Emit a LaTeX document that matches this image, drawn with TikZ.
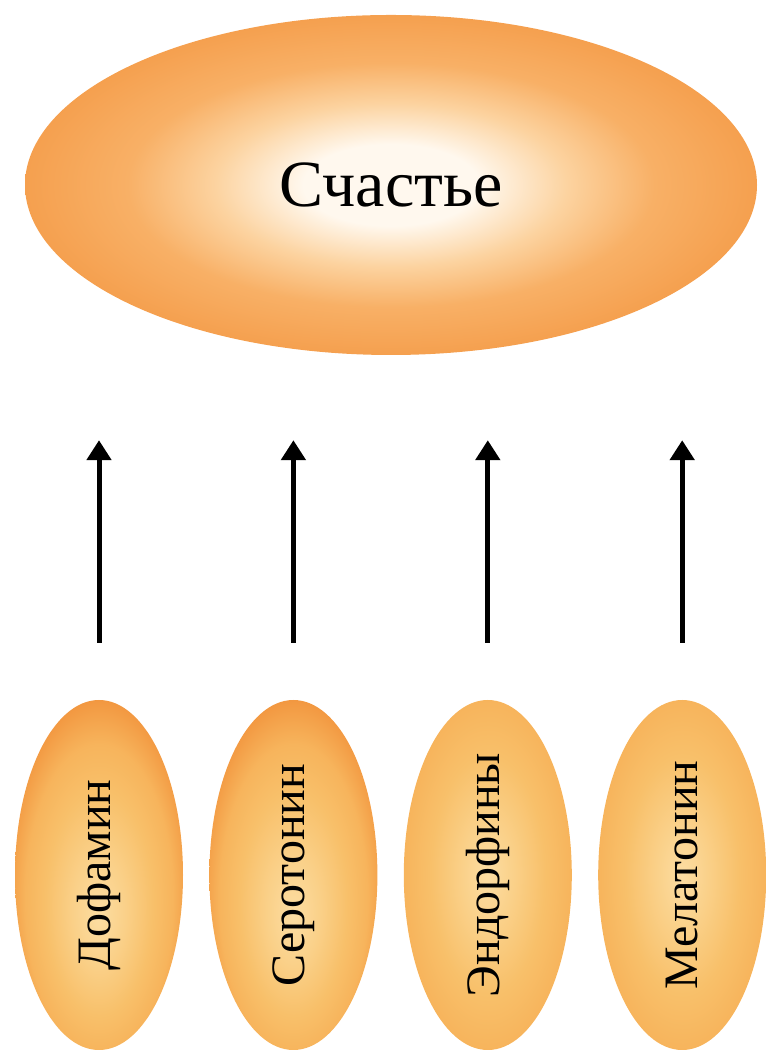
\documentclass[tikz,border=0pt]{standalone}
\usepackage{fontspec}
\setmainfont{Liberation Serif}
\usetikzlibrary{arrows.meta,positioning,shapes.geometric}

\definecolor{glowcore}{HTML}{FFF8EE}
\definecolor{glowmid}{HTML}{FCD3A0}
\definecolor{glowrim}{HTML}{F8B066}
\definecolor{glowedge}{HTML}{F5A04F}
\definecolor{pillcore}{HTML}{FCDDA2}
\definecolor{pillmid}{HTML}{FAD088}
\definecolor{pillrim}{HTML}{F8C06A}
\definecolor{pilledge}{HTML}{F7B45C}
\definecolor{pilldark}{HTML}{F2963F}

% the path's box maps onto the central 50bp square, so the rim sits at 25bp
\pgfdeclareradialshading{bigglow}{\pgfpoint{0bp}{0bp}}{color(0bp)=(glowcore); color(6bp)=(glowcore); color(12bp)=(glowmid); color(18bp)=(glowrim); color(25bp)=(glowedge); color(50bp)=(glowedge)}
\pgfdeclareradialshading{pillglow}{\pgfpoint{0bp}{0bp}}{color(0bp)=(pillcore); color(8bp)=(pillmid); color(17bp)=(pillrim); color(25bp)=(pilledge); color(50bp)=(pilledge)}
\pgfdeclareradialshading{pilltop}{\pgfpoint{0bp}{-6bp}}{color(0bp)=(pillcore); color(8bp)=(pillmid); color(16bp)=(pillrim); color(22bp)=(pilledge); color(28bp)=(pilldark); color(50bp)=(pilldark)}

\begin{document}
\begin{tikzpicture}[x=1pt, y=1pt, node distance=26pt, big/.style={ellipse,shade,shading=bigglow,minimum width=732pt,minimum height=340pt,inner sep=0pt,font=\fontsize{66}{70}\selectfont}, pill/.style={ellipse,shade,shading=pillglow,minimum width=168pt,minimum height=350pt,inner sep=0pt,font=\fontsize{48}{52}\selectfont}, arr/.style={-{Triangle[width=24pt,length=20pt]},line width=5pt,shorten <=57pt,shorten >=85pt}]
\useasboundingbox (0,0) rectangle (766,1054);
\node[big] (happy) at (391,869) {Счастье};
\node[pill,shading=pilltop] (dopa) at (99,179) {\rotatebox{90}{Дофамин}};
\node[pill,shading=pilltop,right=of dopa] (sero) {\rotatebox{90}{Серотонин}};
\node[pill,right=of sero] (endo) {\rotatebox{90}{Эндорфины}};
\node[pill,right=of endo] (mela) {\rotatebox{90}{Мелатонин}};
\draw[arr] (dopa.north)--(dopa.north |- happy.south); \draw[arr] (sero.north)--(sero.north |- happy.south); \draw[arr] (endo.north)--(endo.north |- happy.south); \draw[arr] (mela.north)--(mela.north |- happy.south);
\end{tikzpicture}
\end{document}
